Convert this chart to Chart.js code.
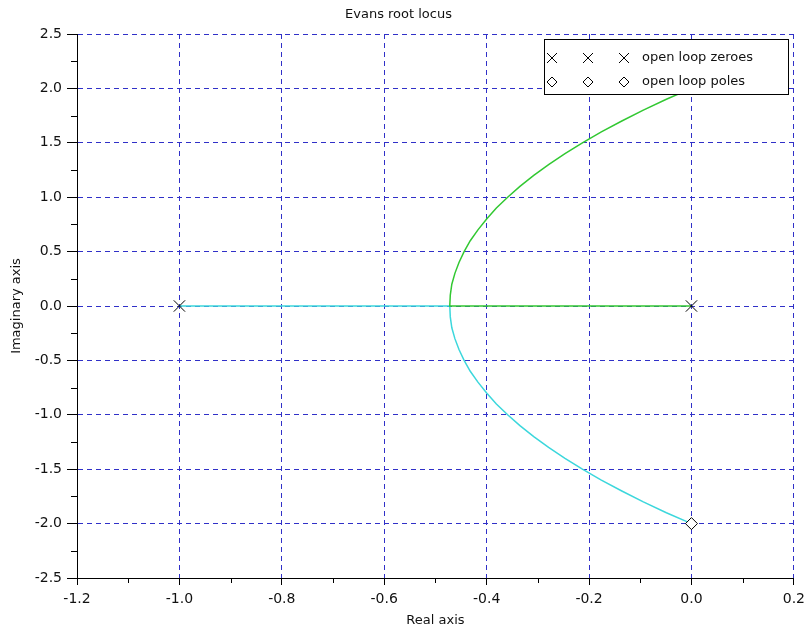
<!DOCTYPE html>
<html>
<head>
<meta charset="utf-8">
<script src="https://cdn.jsdelivr.net/npm/chart.js@4"></script>
<style>
  body { margin: 0; background: #fff; }
</style>
</head>
<body>
<canvas id="myChart" width="811" height="632"></canvas>
<script>
// root locus branches (real part, imaginary part)
const greenX = [0.000, -0.049, -0.094, -0.136, -0.176, -0.213, -0.247, -0.279, -0.308, -0.335, -0.359,
  -0.381, -0.400, -0.417, -0.432, -0.444, -0.454, -0.462, -0.468, -0.471, -0.472, 0.000];
const greenY = [2.0, 1.9, 1.8, 1.7, 1.6, 1.5, 1.4, 1.3, 1.2, 1.1, 1.0,
  0.9, 0.8, 0.7, 0.6, 0.5, 0.4, 0.3, 0.2, 0.1, 0.0, 0.0];
const cyanX = [0.000, -0.049, -0.094, -0.136, -0.176, -0.213, -0.247, -0.279, -0.308, -0.335, -0.359,
  -0.381, -0.400, -0.417, -0.432, -0.444, -0.454, -0.462, -0.468, -0.471, -0.472, -1.000];
const cyanY = [-2.0, -1.9, -1.8, -1.7, -1.6, -1.5, -1.4, -1.3, -1.2, -1.1, -1.0,
  -0.9, -0.8, -0.7, -0.6, -0.5, -0.4, -0.3, -0.2, -0.1, 0.0, 0.0];

const zeroX = [-1.0, 0.0];
const zeroY = [0.0, 0.0];
const poleX = [0.0, 0.0];
const poleY = [-2.0, 2.0];

const legendLabels = ['open loop zeroes', 'open loop poles'];

const toPts = (xs, ys) => xs.map((x, i) => ({x: x, y: ys[i]}));
const fmt = v => Math.abs(v) < 1e-9 ? '0.0' : v.toFixed(1);
const FONT = '"DejaVu Sans", Verdana, sans-serif';
const GRID = 'rgb(48, 48, 200)';

// short minor ticks between the major ones
const minorTicks = {
  id: 'minorTicks',
  afterDraw(chart) {
    const ctx = chart.ctx;
    ctx.save();
    ctx.strokeStyle = '#000';
    ctx.lineWidth = 1;
    const xs = chart.scales.x;
    for (let i = 0; i < xs.ticks.length - 1; i++) {
      const v = (xs.ticks[i].value + xs.ticks[i + 1].value) / 2;
      const px = Math.round(xs.getPixelForValue(v)) + 0.5;
      ctx.beginPath();
      ctx.moveTo(px, xs.top);
      ctx.lineTo(px, xs.top + 5);
      ctx.stroke();
    }
    const ys = chart.scales.y;
    for (let i = 0; i < ys.ticks.length - 1; i++) {
      const v = (ys.ticks[i].value + ys.ticks[i + 1].value) / 2;
      const py = Math.round(ys.getPixelForValue(v)) + 0.5;
      ctx.beginPath();
      ctx.moveTo(ys.right, py);
      ctx.lineTo(ys.right - 6, py);
      ctx.stroke();
    }
    ctx.restore();
  }
};

// boxed legend in the upper right corner
const boxLegend = {
  id: 'boxLegend',
  afterDraw(chart) {
    const ctx = chart.ctx;
    ctx.save();
    ctx.fillStyle = '#fff';
    ctx.fillRect(544, 39, 244, 56);
    ctx.strokeStyle = '#000';
    ctx.lineWidth = 1;
    ctx.strokeRect(544.5, 39.5, 244, 55);
    const cols = [552, 588, 624];
    cols.forEach(cx => {
      ctx.beginPath();
      ctx.moveTo(cx - 5, 53); ctx.lineTo(cx + 5, 63);
      ctx.moveTo(cx + 5, 53); ctx.lineTo(cx - 5, 63);
      ctx.stroke();
      ctx.beginPath();
      ctx.moveTo(cx, 77); ctx.lineTo(cx + 5, 82); ctx.lineTo(cx, 87); ctx.lineTo(cx - 5, 82);
      ctx.closePath();
      ctx.stroke();
    });
    ctx.fillStyle = '#111';
    ctx.font = '13px ' + FONT;
    ctx.textBaseline = 'middle';
    ctx.fillText(legendLabels[0], 642, 58);
    ctx.fillText(legendLabels[1], 642, 82);
    ctx.restore();
  }
};

const tickFont = {family: FONT, size: 14};
const titleFont = {family: FONT, size: 13, weight: 'normal'};

const config = {
  type: 'scatter',
  data: {
    datasets: [
      {
        label: 'zeroes',
        data: toPts(zeroX, zeroY),
        pointStyle: 'crossRot',
        pointRadius: 8,
        borderColor: '#000',
        borderWidth: 1,
        showLine: false
      },
      {
        label: 'poles',
        data: toPts(poleX, poleY),
        pointStyle: 'rectRot',
        pointRadius: 6,
        borderColor: '#000',
        backgroundColor: '#fff',
        borderWidth: 1,
        showLine: false
      },
      {
        label: 'branch 1',
        data: toPts(greenX, greenY),
        showLine: true,
        borderColor: 'rgb(50, 200, 50)',
        borderWidth: 1.5,
        pointRadius: 0,
        tension: 0
      },
      {
        label: 'branch 2',
        data: toPts(cyanX, cyanY),
        showLine: true,
        borderColor: 'rgb(60, 215, 220)',
        borderWidth: 1.5,
        pointRadius: 0,
        tension: 0
      }
    ]
  },
  options: {
    responsive: false,
    animation: false,
    devicePixelRatio: 1,
    layout: {padding: {left: 0, right: 14, top: 0, bottom: 0}},
    plugins: {
      legend: {display: false},
      tooltip: {enabled: false},
      title: {
        display: true,
        text: 'Evans root locus',
        color: '#111',
        font: titleFont,
        padding: {top: 7, bottom: 11.4}
      }
    },
    scales: {
      x: {
        type: 'linear',
        min: -1.2,
        max: 0.2,
        afterFit(scale) { scale.height = 54; },
        ticks: {stepSize: 0.2, color: '#111', font: tickFont, padding: 6, maxRotation: 0, callback: fmt},
        grid: {color: GRID, lineWidth: 1, tickColor: '#000', tickLength: 7},
        border: {color: '#000', width: 1, dash: [5, 4]},
        title: {display: true, text: 'Real axis', color: '#111', font: titleFont, padding: {top: 0, bottom: 4}}
      },
      y: {
        type: 'linear',
        min: -2.5,
        max: 2.5,
        afterFit(scale) { scale.width = 77; },
        ticks: {stepSize: 0.5, color: '#111', font: tickFont, padding: 5, callback: fmt},
        grid: {color: GRID, lineWidth: 1, tickColor: '#000', tickLength: 10},
        border: {color: '#000', width: 1, dash: [5, 4]},
        title: {display: true, text: 'Imaginary axis', color: '#111', font: titleFont, padding: {top: 9, bottom: 0}}
      }
    }
  },
  plugins: [minorTicks, boxLegend]
};

window.addEventListener('DOMContentLoaded', () => {
  new Chart(document.getElementById('myChart'), config);
});
</script>
</body>
</html>
